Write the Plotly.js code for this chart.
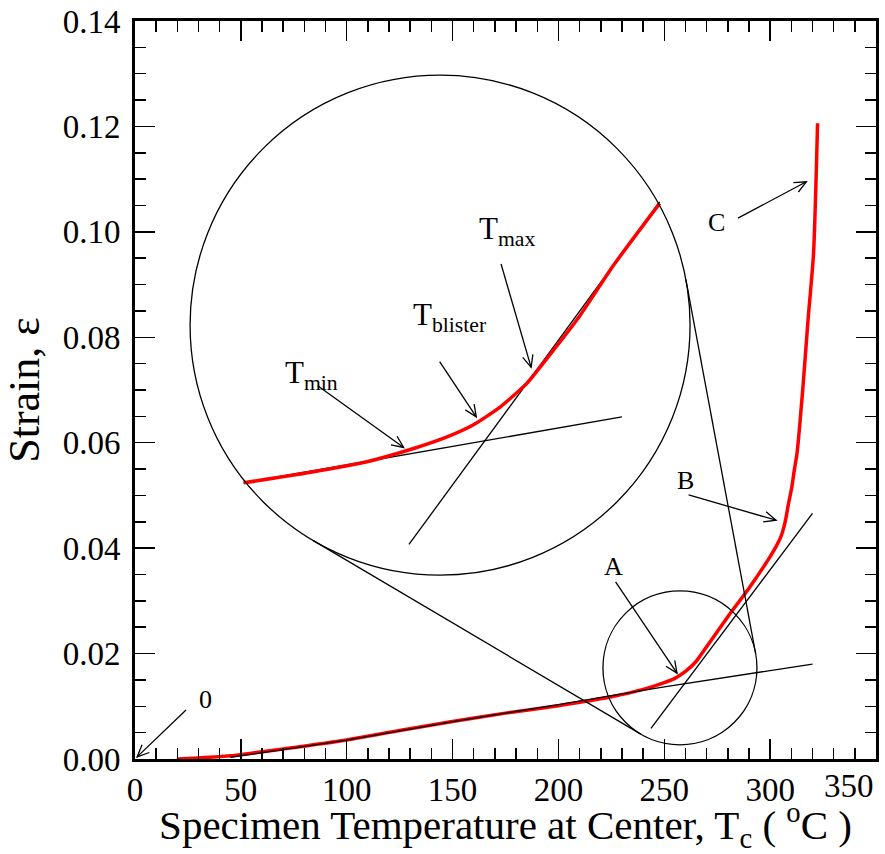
<!DOCTYPE html>
<html>
<head>
<meta charset="utf-8">
<script src="https://cdn.plot.ly/plotly-3.0.1.min.js"></script>
<style>html,body{margin:0;padding:0;background:#fff}#chart{width:885px;height:854px}</style>
</head>
<body>
<div id="chart"></div>
<script>
// ---- data ----
const strainTempC = [20, 30, 45, 55, 70, 100, 125, 150, 175, 200, 225, 240, 250, 255, 260, 265, 270, 280, 290, 300, 302.5, 305, 307.1, 308.7, 310.3, 311.4, 312.7, 315.5, 317.9, 320.5, 322.4];
const strainValue = [0, 0.0002, 0.0006, 0.0011, 0.0019, 0.0036, 0.0054, 0.0071, 0.0087, 0.0101, 0.0118, 0.0132, 0.0145, 0.0153, 0.0166, 0.0185, 0.0213, 0.0270, 0.0324, 0.0384, 0.0401, 0.0421, 0.0450, 0.0485, 0.0517, 0.0548, 0.0580, 0.0706, 0.0833, 0.0959, 0.1206];

const fitLowX = [45, 100, 150, 200, 250, 320];
const fitLowY = [0.0003, 0.0036, 0.0071, 0.0103, 0.0137, 0.0180];
const fitHighX = [243.7, 320];
const fitHighY = [0.0058, 0.0466];

// magnified view (inside the large circle)
const zoomCurveX = [51.3, 84.4, 109.6, 131.6, 147.4, 159.9, 172.6, 185.2, 194.6, 210.3, 226.1, 247.8];
const zoomCurveY = [0.0524, 0.0545, 0.0564, 0.0589, 0.0611, 0.0634, 0.0668, 0.0713, 0.0760, 0.0842, 0.0937, 0.1054];
const zoomLowX = [51.3, 230.0];
const zoomLowY = [0.0524, 0.0649];
const zoomHighX = [129.4, 247.8];
const zoomHighY = [0.0407, 0.1057];

const xTickVals = [0, 50, 100, 150, 200, 250, 300, 350];
const xTickText = ['0', '50', '100', '150', '200', '250', '300', ''];
const xLastTickText = '350';
const yTickVals = [0, 0.02, 0.04, 0.06, 0.08, 0.10, 0.12, 0.14];
const yTickText = ['0.00', '0.02', '0.04', '0.06', '0.08', '0.10', '0.12', '0.14'];

// labels with arrows: text, label position, arrow tail, arrow tip
const labelText = ['0', 'A', 'B', 'C', 'T<sub>min</sub>', 'T<sub>blister</sub>', 'T<sub>max</sub>'];
const labelX = [33.3, 226.1, 259.9, 274.6, 83.3, 148.9, 175.9];
const labelY = [0.0112, 0.0365, 0.0528, 0.1017, 0.0728, 0.0838, 0.1002];
const arrowTailX = [24.1, 227.0, 261.5, 284.8, 86.3, 143.9, 172.9];
const arrowTailY = [0.0093, 0.0336, 0.0501, 0.1026, 0.0708, 0.0754, 0.0939];
const arrowTipX = [1.0, 256.0, 302.8, 317.1, 126.9, 161.2, 187.1];
const arrowTipY = [0.0004, 0.0163, 0.0453, 0.1095, 0.0591, 0.0649, 0.0743];

// ---- geometry / style ----
const W = 885, H = 854;
const M = {l: 135, r: 9, t: 21, b: 95};
const XR = [0, 350], YR = [0, 0.14];
const PPX = (W - M.l - M.r) / (XR[1] - XR[0]);
const PPY = (H - M.t - M.b) / (YR[1] - YR[0]);
const SERIF = "'Liberation Serif', 'Times New Roman', Times, serif";

const bigCircle = {cx: 144.1, cy: 0.0823, r: 250};   // r in pixels
const smallCircle = {cx: 257.4, cy: 0.0173, r: 77};

function circleShape(c) {
  const rx = c.r / PPX, ry = c.r / PPY;
  return {type: 'circle', xref: 'x', yref: 'y', x0: c.cx - rx, x1: c.cx + rx, y0: c.cy - ry, y1: c.cy + ry,
          line: {color: 'black', width: 1.3}, fillcolor: 'rgba(0,0,0,0)'};
}
function lineShape(x0, y0, x1, y1, w) {
  return {type: 'line', xref: 'x', yref: 'y', x0, y0, x1, y1, line: {color: 'black', width: w || 1.3}};
}
// external common tangents of the two circles (computed in pixel space)
function tangentShapes(c1, c2) {
  const X1 = c1.cx * PPX, Y1 = c1.cy * PPY, X2 = c2.cx * PPX, Y2 = c2.cy * PPY;
  const dx = X2 - X1, dy = Y2 - Y1, L = Math.hypot(dx, dy);
  const ux = dx / L, uy = dy / L;
  const a = (c1.r - c2.r) / L, b = Math.sqrt(1 - a * a);
  const out = [];
  [1, -1].forEach(s => {
    const nx = a * ux + s * b * (-uy), ny = a * uy + s * b * ux;
    out.push(lineShape((X1 + c1.r * nx) / PPX, (Y1 + c1.r * ny) / PPY,
                       (X2 + c2.r * nx) / PPX, (Y2 + c2.r * ny) / PPY));
  });
  return out;
}
function arrowShapes(x0, y0, x1, y1) {
  const dx = (x1 - x0) * PPX, dy = (y1 - y0) * PPY, L = Math.hypot(dx, dy);
  const ux = -dx / L, uy = -dy / L, len = 13, ang = 24 * Math.PI / 180;
  const pts = [1, -1].map(s => {
    const c = Math.cos(ang), sn = Math.sin(s * ang);
    const rx = ux * c - uy * sn, ry = ux * sn + uy * c;
    return [x1 + len * rx / PPX, y1 + len * ry / PPY];
  });
  return [lineShape(x0, y0, x1, y1),
    {type: 'path', xref: 'x', yref: 'y',
     path: `M ${pts[0][0]},${pts[0][1]} L ${x1},${y1} L ${pts[1][0]},${pts[1][1]}`,
     line: {color: 'black', width: 1.3}}];
}

const shapes = [circleShape(bigCircle), circleShape(smallCircle), ...tangentShapes(bigCircle, smallCircle)];
for (let i = 0; i < labelText.length; i++) shapes.push(...arrowShapes(arrowTailX[i], arrowTailY[i], arrowTipX[i], arrowTipY[i]));

const TICKSIZE = 33;
const annotations = labelText.map((t, i) => ({
  x: labelX[i], y: labelY[i], xref: 'x', yref: 'y', text: t, showarrow: false,
  xanchor: 'center', yanchor: 'middle',
  font: {family: SERIF, size: i < 4 ? 26 : 31, color: 'black'}
}));
// last x tick label, right-aligned to the axis end as in the reference
annotations.push({x: XR[1], y: 0, xref: 'x', yref: 'paper', text: xLastTickText, showarrow: false,
  xanchor: 'right', yanchor: 'top', yshift: -7, font: {family: SERIF, size: TICKSIZE, color: 'black'}});

const traces = [
  {x: strainTempC, y: strainValue, mode: 'lines', line: {color: '#ff0000', width: 3.5, shape: 'spline', smoothing: 0.6}, name: 'strain'},
  {x: fitLowX, y: fitLowY, mode: 'lines', line: {color: 'black', width: 1.3, shape: 'spline', smoothing: 0.5}, name: 'fit low'},
  {x: fitHighX, y: fitHighY, mode: 'lines', line: {color: 'black', width: 1.3}, name: 'fit high'},
  {x: zoomLowX, y: zoomLowY, mode: 'lines', line: {color: 'black', width: 1.3}, name: 'zoom low'},
  {x: zoomHighX, y: zoomHighY, mode: 'lines', line: {color: 'black', width: 1.3}, name: 'zoom high'},
  {x: zoomCurveX, y: zoomCurveY, mode: 'lines', line: {color: '#ff0000', width: 3.5, shape: 'spline', smoothing: 0.5}, name: 'zoom strain'}
];

const axisCommon = {
  showgrid: false, zeroline: false, showline: true, linecolor: 'black', linewidth: 3,
  mirror: 'allticks', ticks: 'inside', ticklen: 20, tickwidth: 1.5, tickcolor: 'black',
  tickfont: {family: SERIF, size: TICKSIZE, color: 'black'}
};

const layout = {
  width: W, height: H, margin: M, showlegend: false,
  paper_bgcolor: 'white', plot_bgcolor: 'white',
  xaxis: Object.assign({}, axisCommon, {
    range: XR, tickmode: 'array', tickvals: xTickVals, ticktext: xTickText, ticklabelstandoff: -1,
    minor: {dtick: 10, ticklen: 11, tickwidth: 1.5, tickcolor: 'black', ticks: 'inside'},
    title: {text: 'Specimen Temperature at Center, T<sub>c</sub> ( <sup>o</sup>C )', font: {family: SERIF, size: 41, color: 'black'}, standoff: 13}
  }),
  yaxis: Object.assign({}, axisCommon, {
    range: YR, tickmode: 'array', tickvals: yTickVals, ticktext: yTickText, ticklabelstandoff: 5,
    minor: {dtick: 0.005, ticklen: 11, tickwidth: 1.5, tickcolor: 'black', ticks: 'inside'},
    title: {text: 'Strain, ε', font: {family: SERIF, size: 44, color: 'black'}, standoff: 10}
  }),
  shapes, annotations
};

Plotly.newPlot('chart', traces, layout, {staticPlot: true});
</script>
</body>
</html>
